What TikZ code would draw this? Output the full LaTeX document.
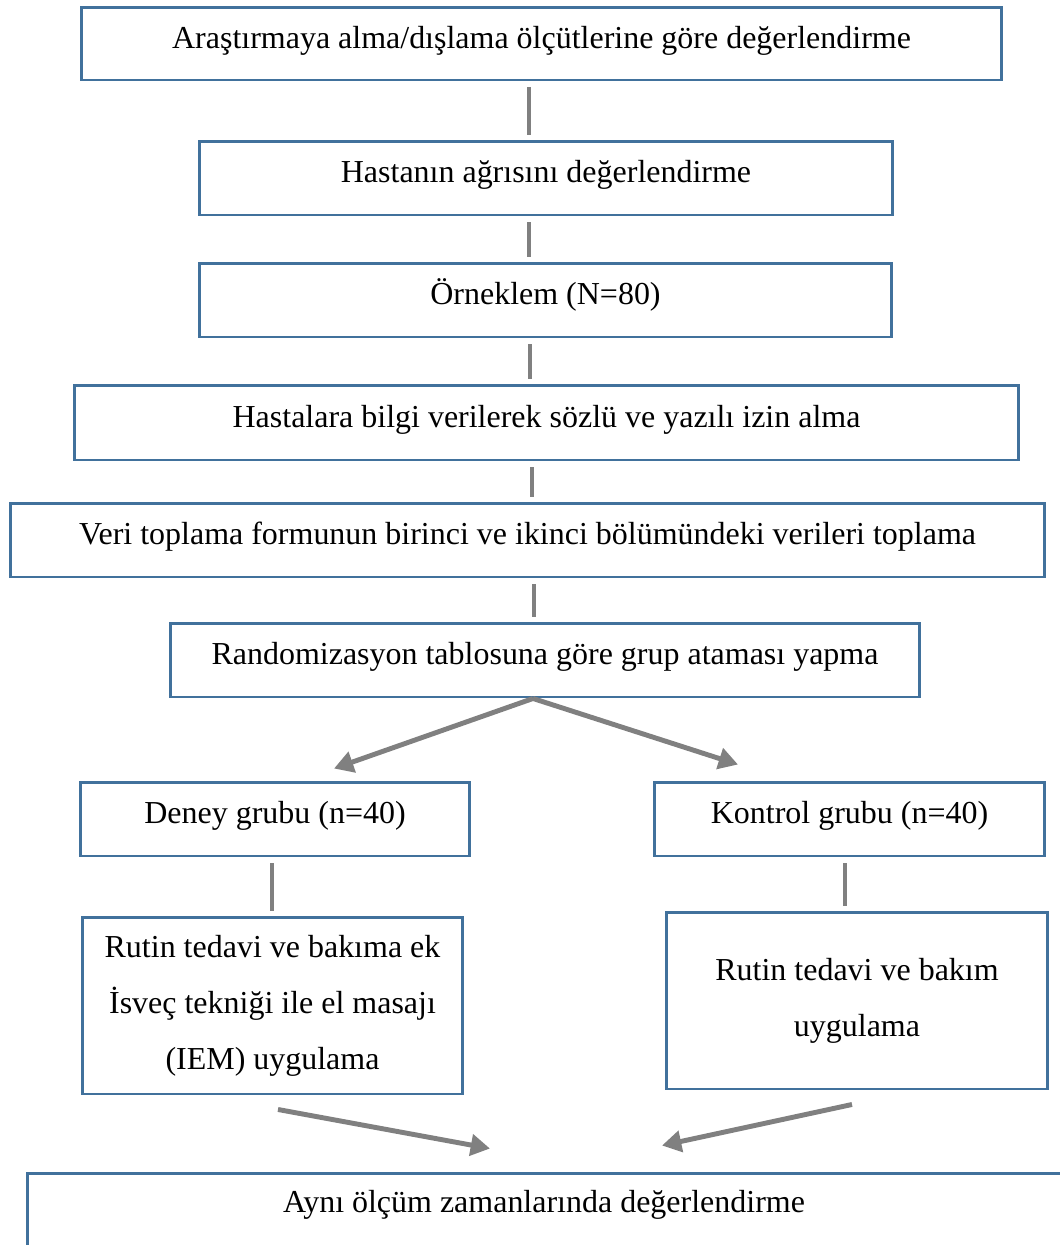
\documentclass[tikz,border=0pt]{standalone}
\usepackage{fontspec}
\setmainfont{Liberation Serif}
\usetikzlibrary{arrows.meta}
\definecolor{boxblue}{RGB}{65,113,156}
\definecolor{linkgray}{RGB}{128,128,128}
\tikzset{
  box/.style={draw=boxblue, line width=1.7pt, align=center, inner sep=0pt,
    font=\fontsize{18.2}{31.9}\selectfont},
  onebox/.style={box, text height=9.5pt, text depth=4.3pt},
  link/.style={draw=linkgray, line width=2.8pt, shorten <=0.12cm, shorten >=0.1cm},
  flow/.style={draw=linkgray, line width=2.8pt, -{Triangle[length=11pt,width=12pt]}}
}
\begin{document}
\begin{tikzpicture}[x=0.02cm, y=-0.02cm]
\useasboundingbox (0,0) rectangle (1059,1245);

\node[onebox, minimum width=18.42cm, minimum height=1.46cm] (b1) at (541.5,43.5) {Araştırmaya alma/dışlama ölçütlerine göre değerlendirme};
\node[onebox, minimum width=13.88cm, minimum height=1.48cm] (b2) at (546,178) {Hastanın ağrısını değerlendirme};
\node[onebox, minimum width=13.86cm, minimum height=1.48cm] (b3) at (545.5,300) {Örneklem (N=80)};
\node[onebox, minimum width=18.9cm, minimum height=1.5cm] (b4) at (546.5,422.5) {Hastalara bilgi verilerek sözlü ve yazılı izin alma};
\node[onebox, minimum width=20.7cm, minimum height=1.48cm] (b5) at (527.5,540) {Veri toplama formunun birinci ve ikinci bölümündeki verileri toplama};
\node[onebox, minimum width=15cm, minimum height=1.48cm] (b6) at (545,660) {Randomizasyon tablosuna göre grup ataması yapma};

\draw[link] ([xshift=-0.25cm]b1.south) -- ([xshift=-0.25cm]b1.south |- b2.north);
\draw[link] ([xshift=-0.34cm]b2.south) -- ([xshift=-0.34cm]b2.south |- b3.north);
\draw[link] ([xshift=-0.31cm]b3.south) -- ([xshift=-0.31cm]b3.south |- b4.north);
\draw[link] ([xshift=-0.29cm]b4.south) -- ([xshift=-0.29cm]b4.south |- b5.north);
\draw[link] ([xshift=0.13cm]b5.south) -- ([xshift=0.13cm]b5.south |- b6.north);

\node[onebox, minimum width=7.8cm, minimum height=1.48cm] (b7) at (275,819) {Deney grubu (n=40)};
\node[onebox, minimum width=7.82cm, minimum height=1.48cm] (b8) at (849.5,819) {Kontrol grubu (n=40)};

\draw[flow] ([xshift=-0.24cm]b6.south) -- ([xshift=1.18cm,yshift=0.24cm]b7.north);
\draw[flow] ([xshift=-0.24cm]b6.south) -- ([xshift=-2.23cm,yshift=0.32cm]b8.north);

\node[box, minimum width=7.62cm, minimum height=3.54cm] (b9) at (272.5,1005.5) {Rutin tedavi ve bakıma ek\\İsveç tekniği ile el masajı\\(IEM) uygulama};
\node[box, minimum width=7.64cm, minimum height=3.54cm] (b10) at (857,1000.5) {Rutin tedavi ve bakım\\uygulama};

\draw[link] ([xshift=-0.06cm]b7.south) -- ([xshift=-0.06cm]b7.south |- b9.north);
\draw[link] ([xshift=-0.09cm]b8.south) -- ([xshift=-0.09cm]b8.south |- b10.north);

\node[box, minimum width=21.46cm, minimum height=2.54cm] (b11) at (563.5,1236.5) {};
\node[font=\fontsize{18.2}{31.9}\selectfont] (t11) at (544,1205) {Aynı ölçüm zamanlarında değerlendirme};

\draw[flow] ([xshift=0.11cm,yshift=-0.28cm]b9.south) -- ([xshift=-1.47cm,yshift=0.46cm]b11.north);
\draw[flow] ([xshift=-0.1cm,yshift=-0.28cm]b10.south) -- ([xshift=1.97cm,yshift=0.52cm]b11.north);
\end{tikzpicture}
\end{document}
